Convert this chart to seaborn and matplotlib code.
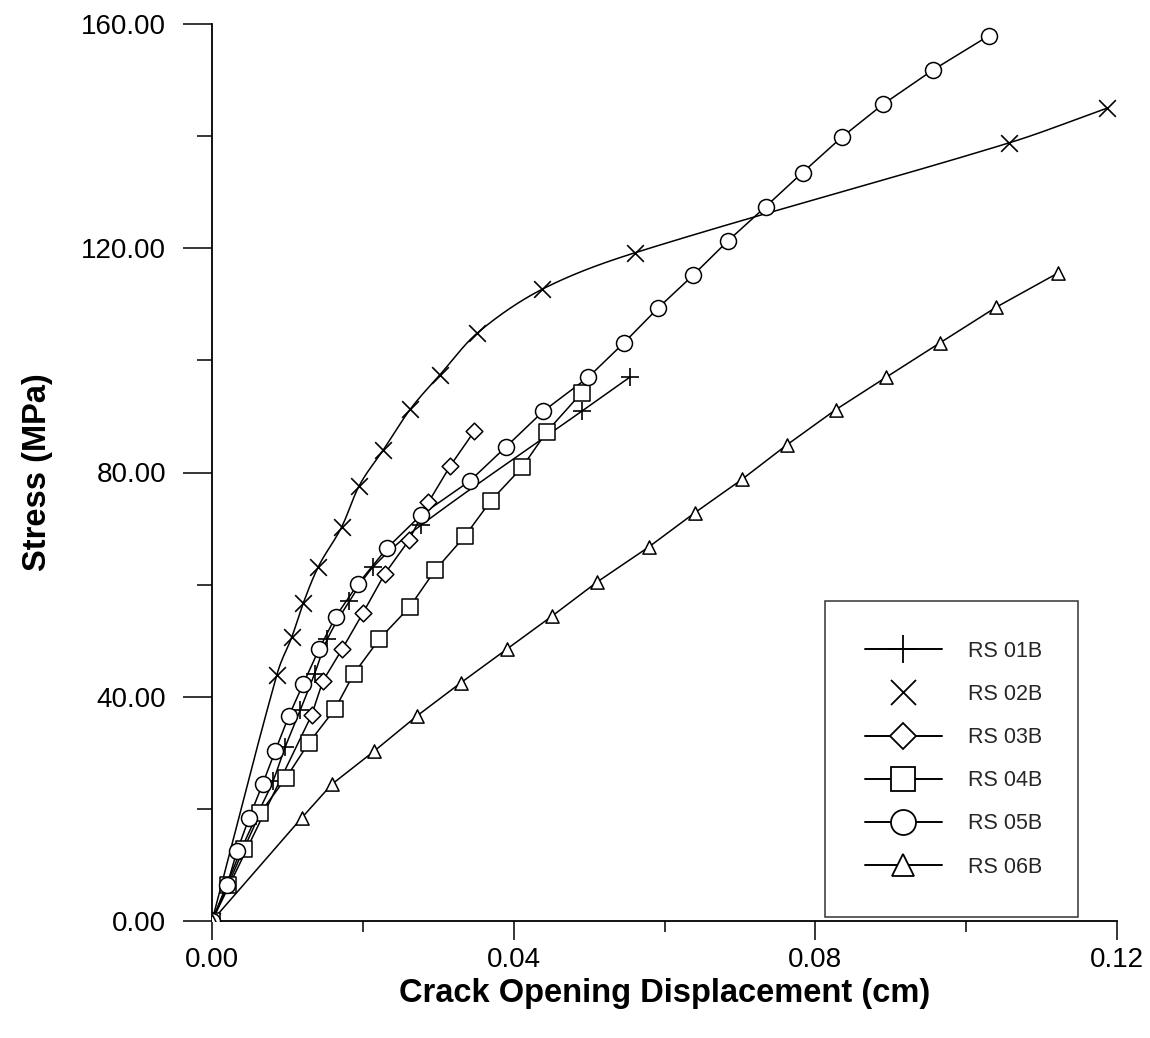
import numpy as np
import pandas as pd
import matplotlib
matplotlib.use("Agg")
import matplotlib.pyplot as plt
from matplotlib.lines import Line2D
import seaborn as sns

# ---------------- data ----------------
rs01b_x = [0, 0.0038, 0.0059, 0.0081, 0.0097, 0.0117, 0.0136, 0.0153, 0.0182, 0.0214, 0.0277, 0.0491, 0.0554]
rs01b_y = [0, 12.5, 18.7, 25.0, 31.0, 37.6, 44.1, 50.3, 57.0, 63.2, 70.6, 91.0, 97.0]

rs02b_x = [0, 0.0086, 0.0106, 0.0121, 0.0141, 0.0172, 0.0195, 0.0227, 0.0263, 0.0302, 0.0352, 0.0438, 0.0561, 0.1057, 0.1187]
rs02b_y = [0, 43.9, 50.7, 56.7, 63.2, 70.3, 77.6, 84.0, 91.3, 97.4, 104.9, 112.7, 119.2, 138.8, 145.0]

rs03b_x = [0, 0.0132, 0.0147, 0.0173, 0.0200, 0.0229, 0.0261, 0.0287, 0.0316, 0.0348]
rs03b_y = [0, 36.7, 42.8, 48.6, 54.9, 61.9, 67.9, 74.7, 81.2, 87.4]

rs04b_x = [0, 0.0021, 0.0042, 0.0064, 0.0098, 0.0128, 0.0163, 0.0188, 0.0222, 0.0262, 0.0296, 0.0335, 0.0370, 0.0411, 0.0444, 0.0490]
rs04b_y = [0, 6.4, 12.8, 19.3, 25.5, 31.7, 37.8, 44.1, 50.3, 56.0, 62.6, 68.6, 75.0, 80.9, 87.3, 94.2]

rs05b_x = [0, 0.0020, 0.0033, 0.0049, 0.0067, 0.0084, 0.0102, 0.0121, 0.0142, 0.0164, 0.0194, 0.0232, 0.0277,
           0.0342, 0.0390, 0.0439, 0.0499, 0.0546, 0.0592, 0.0638, 0.0684, 0.0734, 0.0783, 0.0835, 0.0890, 0.0956, 0.1030]
rs05b_y = [0, 6.4, 12.4, 18.3, 24.4, 30.4, 36.6, 42.3, 48.5, 54.3, 60.2, 66.5, 72.4,
           78.5, 84.6, 90.9, 97.0, 103.1, 109.4, 115.2, 121.3, 127.4, 133.5, 139.8, 145.7, 151.8, 157.9]

rs06b_x = [0, 0.0119, 0.0159, 0.0215, 0.0272, 0.0330, 0.0391, 0.0451, 0.0511, 0.0579, 0.0640, 0.0703, 0.0762,
           0.0827, 0.0894, 0.0965, 0.1040, 0.1122]
rs06b_y = [0, 18.4, 24.4, 30.3, 36.6, 42.5, 48.5, 54.4, 60.5, 66.7, 72.8, 78.8, 84.9, 91.2, 97.0, 103.1, 109.5, 115.6]

series_names = ["RS 01B", "RS 02B", "RS 03B", "RS 04B", "RS 05B", "RS 06B"]
x_ticks = [0.00, 0.04, 0.08, 0.12]
x_tick_labels = ["0.00", "0.04", "0.08", "0.12"]
y_ticks = [0, 40, 80, 120, 160]
y_tick_labels = ["0.00", "40.00", "80.00", "120.00", "160.00"]

# ---------------- helpers ----------------
def smooth_curve(x, y, n=600):
    """Cubic Hermite (Catmull-Rom style) drawing curve through the read points."""
    x = np.asarray(x, float); y = np.asarray(y, float)
    k = len(x)
    h = np.diff(x)
    d = np.diff(y) / h
    m = np.zeros(k)
    m[1:-1] = (y[2:] - y[:-2]) / (x[2:] - x[:-2])
    m[0] = d[0]
    m[-1] = d[-1]
    xs = np.linspace(x[0], x[-1], n)
    idx = np.clip(np.searchsorted(x, xs) - 1, 0, k - 2)
    hh = h[idx]
    t = (xs - x[idx]) / hh
    h00 = 2 * t ** 3 - 3 * t ** 2 + 1
    h10 = t ** 3 - 2 * t ** 2 + t
    h01 = -2 * t ** 3 + 3 * t ** 2
    h11 = t ** 3 - t ** 2
    ys = h00 * y[idx] + h10 * hh * m[idx] + h01 * y[idx + 1] + h11 * hh * m[idx + 1]
    return xs, ys

# ---------------- figure ----------------
sns.set_theme(style="white")
plt.rcParams["font.family"] = ["Liberation Sans", "DejaVu Sans"]

fig = plt.figure(figsize=(11.5, 10.38), dpi=100)
ax = fig.add_axes([212 / 1150, 117 / 1038, 905 / 1150, 897 / 1038])

# name: (x, y, marker, plot size, legend size, smooth line)
data = {
    "RS 01B": (rs01b_x, rs01b_y, "+", 13, 20, True),
    "RS 02B": (rs02b_x, rs02b_y, "x", 12, 18, True),
    "RS 03B": (rs03b_x, rs03b_y, "D", 8.5, 13, False),
    "RS 04B": (rs04b_x, rs04b_y, "s", 11, 17.5, False),
    "RS 05B": (rs05b_x, rs05b_y, "o", 11.5, 18, False),
    "RS 06B": (rs06b_x, rs06b_y, "^", 9.5, 16, False),
}

lw = 1.1
handles = []
for name in series_names:
    xs, ys, mk, ms, lms, smooth = data[name]
    if smooth:
        cx, cy = smooth_curve(xs, ys)
    else:
        cx, cy = np.asarray(xs), np.asarray(ys)
    line_df = pd.DataFrame({"x": cx, "y": cy})
    sns.lineplot(data=line_df, x="x", y="y", ax=ax, color="black", linewidth=lw,
                 sort=False, estimator=None)
    pts = pd.DataFrame({"x": xs, "y": ys})
    if mk in ("+", "x"):
        sns.scatterplot(data=pts, x="x", y="y", ax=ax, marker=mk, s=ms ** 2,
                        color="black", linewidth=1.2, zorder=3)
    else:
        sns.scatterplot(data=pts, x="x", y="y", ax=ax, marker=mk, s=ms ** 2,
                        facecolor="white", edgecolor="black", linewidth=1.1, zorder=3)
    leg_ls = "none" if name == "RS 02B" else "-"
    handles.append(Line2D([0], [0], color="black", linewidth=1.4, linestyle=leg_ls,
                          marker=mk, markersize=lms, markerfacecolor="white",
                          markeredgecolor="black", markeredgewidth=1.3, label=name))

ax.set_xlim(0, 0.12)
ax.set_ylim(0, 160)
ax.set_xticks(x_ticks)
ax.set_xticklabels(x_tick_labels)
ax.set_yticks(y_ticks)
ax.set_yticklabels(y_tick_labels)
ax.set_xticks([0.02, 0.06, 0.10], minor=True)
ax.set_yticks([20, 60, 100, 140], minor=True)

for s in ["top", "right"]:
    ax.spines[s].set_visible(False)
for s in ["left", "bottom"]:
    ax.spines[s].set_color("black")
    ax.spines[s].set_linewidth(1.3)

ax.tick_params(axis="y", which="major", direction="out", length=21, width=1.1,
               color="black", labelsize=20, pad=12, left=True)
ax.tick_params(axis="y", which="minor", direction="out", length=11, width=1.1,
               color="black", left=True)
ax.tick_params(axis="x", which="major", direction="out", length=14, width=1.1,
               color="black", labelsize=20, pad=5, bottom=True)
ax.tick_params(axis="x", which="minor", direction="out", length=8, width=1.1,
               color="black", bottom=True)
for lab in ax.get_xticklabels() + ax.get_yticklabels():
    lab.set_color("black")

ax.set_xlabel("Crack Opening Displacement (cm)", fontsize=23.5, fontweight="bold",
              color="black", labelpad=3)
ax.set_ylabel("Stress (MPa)", fontsize=23.5, fontweight="bold", color="black", labelpad=20)
ax.grid(False)

leg = ax.legend(handles=handles, loc="lower left", bbox_to_anchor=(0.677, 0.004, 0.28, 0.354),
                mode="expand", fontsize=15.5, frameon=True, fancybox=False, edgecolor="black",
                handlelength=3.6, handletextpad=1.2, labelspacing=1.03, borderpad=1.85,
                borderaxespad=0)
leg.get_frame().set_linewidth(1.1)

fig.savefig("out.png", dpi=100, facecolor="white")
